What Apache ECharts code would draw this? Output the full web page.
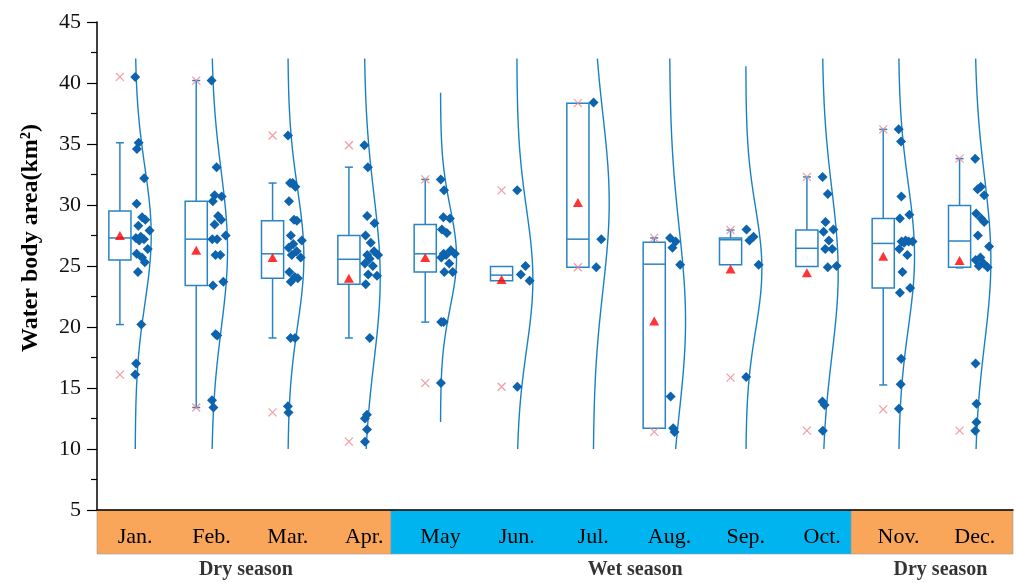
<!DOCTYPE html>
<html>
<head>
<meta charset="utf-8">
<script src="https://cdn.jsdelivr.net/npm/echarts/dist/echarts.min.js"></script>
<style>
html, body { margin: 0; padding: 0; background: #fff; }
#chart { width: 1016px; height: 583px; }
</style>
</head>
<body>
<div id="chart"></div>
<script>
var months = ["Jan.", "Feb.", "Mar.", "Apr.", "May", "Jun.", "Jul.", "Aug.", "Sep.", "Oct.", "Nov.", "Dec."];

// yearly water body area per month (km2)
var jan = [40.5, 35.1, 34.6, 32.2, 30.1, 29.0, 28.8, 28.3, 27.9, 27.4, 27.3, 27.2, 27.1, 26.4, 26.0, 25.7, 25.3, 24.5, 20.2, 17.0, 16.1];
var feb = [40.2, 33.1, 30.8, 30.7, 30.3, 29.1, 28.8, 28.4, 27.5, 27.2, 27.2, 25.9, 25.9, 23.7, 23.4, 19.4, 19.3, 14.0, 13.4];
var mar = [35.7, 31.8, 31.8, 31.5, 30.3, 28.8, 28.7, 27.5, 27.1, 26.8, 26.5, 26.2, 25.9, 25.7, 24.5, 24.1, 24.0, 23.7, 19.1, 19.1, 13.5, 13.0];
var apr = [34.9, 33.1, 29.1, 28.5, 27.5, 26.9, 26.2, 25.9, 25.9, 25.6, 25.2, 25.0, 24.3, 24.2, 23.5, 19.1, 12.8, 12.5, 11.6, 10.6];
var may = [32.1, 31.2, 29.0, 28.9, 28.0, 27.7, 26.3, 26.0, 26.0, 25.9, 25.7, 25.2, 24.5, 24.5, 20.4, 20.4, 15.4];
var jun = [31.2, 25.0, 24.3, 23.8, 15.1];
var jul = [38.4, 27.2, 24.9];
var aug = [27.3, 27.0, 26.5, 25.1, 14.3, 11.7, 11.4];
var sep = [28.0, 27.4, 27.1, 25.1, 15.9];
var oct = [32.3, 30.9, 28.6, 28.0, 27.8, 27.1, 26.4, 26.4, 25.0, 24.9, 13.9, 13.6, 11.5];
var nov = [36.2, 35.2, 30.7, 29.2, 28.9, 27.1, 27.0, 27.0, 27.0, 26.9, 26.4, 25.9, 24.5, 23.2, 22.8, 17.4, 15.3, 13.3];
var dec = [33.8, 31.5, 31.3, 30.8, 29.3, 28.9, 28.6, 27.5, 26.6, 25.7, 25.5, 25.2, 25.0, 24.9, 17.0, 13.7, 12.2, 11.5];
var monthPoints = [jan, feb, mar, apr, may, jun, jul, aug, sep, oct, nov, dec];

// box statistics
var boxLow  = [20.2, 13.4, 19.1, 19.1, 20.4, 23.8, 24.9, 11.7, 25.1, 24.95, 15.25, 24.85];
var boxQ1   = [25.5, 23.4, 24.0, 23.5, 24.5, 23.8, 24.9, 11.7, 25.1, 24.95, 23.2, 24.9];
var boxMed  = [27.3, 27.2, 26.0, 25.55, 26.0, 24.25, 27.2, 25.15, 27.15, 26.45, 26.85, 27.05];
var boxQ3   = [29.5, 30.3, 28.7, 27.5, 28.4, 24.95, 38.35, 26.95, 27.3, 27.95, 28.9, 29.95];
var boxHigh = [35.1, 40.2, 31.8, 33.1, 32.1, 24.95, 38.35, 27.3, 27.95, 32.3, 36.2, 33.8];
var means   = [27.5, 26.3, 25.7, 24.0, 25.7, 23.9, 30.2, 20.5, 24.75, 24.45, 25.8, 25.45];
var crossMax = [40.5, 40.2, 35.7, 34.9, 32.1, 31.2, 38.35, 27.3, 27.95, 32.3, 36.2, 33.8];
var crossMin = [16.1, 13.4, 13.0, 10.6, 15.4, 15.1, 24.9, 11.4, 15.85, 11.5, 13.25, 11.5];

// season bands along the month axis
var seasonNames = ["Dry season", "Wet season", "Dry season"];
var seasonFrom = [0.47, 4.35, 10.38];
var seasonTo = [4.35, 10.38, 12.5];
var seasonLabelAt = [2.45, 7.55, 11.55];

var serif = "'Liberation Serif', 'Times New Roman', serif";
var BOX_SHIFT = -0.2, BOX_W = 0.29, AMP = 0.21;
var jitter = [0.05, 0.55, 0.25, 0.8, 0.1, 0.45, 0.65, 0.2, 0.9, 0.35];

function sdOf(arr, m) {
  if (arr.length < 2) return 1;
  var s = 0;
  arr.forEach(function (v) { s += (v - m) * (v - m); });
  return Math.sqrt(s / (arr.length - 1));
}
var sds = monthPoints.map(function (arr, i) { return sdOf(arr, means[i]); });
function dens(i, v) { var z = (v - means[i]) / sds[i]; return Math.exp(-0.5 * z * z); }

var scatterData = [];
monthPoints.forEach(function (arr, i) {
  arr.forEach(function (v, j) {
    scatterData.push([i + 1 + jitter[j % jitter.length] * AMP * dens(i, v), v]);
  });
});

var curveSeries = monthPoints.map(function (arr, i) {
  var lo = Math.max(10, means[i] - 3.3 * sds[i]);
  var hi = Math.min(42, means[i] + 3.3 * sds[i]);
  var pts = [];
  for (var y = lo; y < hi; y += 0.2) pts.push([i + 1 + AMP * dens(i, y), y]);
  pts.push([i + 1 + AMP * dens(i, hi), hi]);
  return {
    type: "line", xAxisIndex: 1, yAxisIndex: 0, data: pts, showSymbol: false, silent: true,
    lineStyle: { color: "#1a80c6", width: 1.4 }, z: 1
  };
});

var chart = echarts.init(document.getElementById("chart"));
chart.setOption({
  animation: false,
  grid: [
    { left: 97, right: 3, top: 22, bottom: 73 },
    { left: 97, right: 3, top: 510, height: 44 }
  ],
  xAxis: [
    {
      gridIndex: 0, type: "category", data: months, boundaryGap: true, z: 10,
      axisLine: { lineStyle: { color: "#000", width: 1.5 } },
      axisTick: { alignWithLabel: true, length: 10, lineStyle: { color: "#000", width: 1.2 } },
      axisLabel: { margin: 16, fontSize: 22, fontFamily: serif, color: "#000" }
    },
    { gridIndex: 0, type: "value", min: 0.5, max: 12.5, show: false },
    { gridIndex: 1, type: "value", min: 0.5, max: 12.5, show: false }
  ],
  yAxis: [
    {
      gridIndex: 0, type: "value", min: 5, max: 45, interval: 5,
      name: "Water body area(km²)", nameLocation: "middle", nameGap: 54,
      nameTextStyle: { fontFamily: serif, fontWeight: "bold", fontSize: 24, color: "#000", padding: [0, 0, 0, 56] },
      axisLine: { show: true, lineStyle: { color: "#000", width: 1.5 } },
      axisTick: { show: true, length: 10, lineStyle: { color: "#000", width: 1.2 } },
      minorTick: { show: true, splitNumber: 2, length: 6, lineStyle: { color: "#000", width: 1.2 } },
      splitLine: { show: false },
      axisLabel: { margin: 16, fontSize: 22, fontFamily: serif, color: "#111" }
    },
    { gridIndex: 1, type: "value", min: 0, max: 1, show: false }
  ],
  series: curveSeries.concat([
    {
      type: "line", xAxisIndex: 2, yAxisIndex: 1, data: [], z: 0,
      markArea: {
        silent: true,
        data: seasonNames.map(function (n, k) {
          return [
            { xAxis: seasonFrom[k], itemStyle: { color: n === "Wet season" ? "#00b4f0" : "#f9a65a", borderColor: "#999", borderWidth: 0.6 } },
            { xAxis: seasonTo[k] }
          ];
        })
      }
    },
    {
      type: "scatter", xAxisIndex: 2, yAxisIndex: 1, symbolSize: 0, silent: true,
      data: seasonNames.map(function (n, k) { return [seasonLabelAt[k], 0, n]; }),
      label: {
        show: true, position: "bottom", distance: 6,
        formatter: function (p) { return p.value[2]; },
        fontFamily: serif, fontWeight: "bold", fontSize: 20, color: "#000"
      }
    },
    {
      type: "custom", xAxisIndex: 1, yAxisIndex: 0, z: 3,
      data: months.map(function (m, i) { return [i + 1, boxLow[i], boxQ1[i], boxMed[i], boxQ3[i], boxHigh[i]]; }),
      encode: { x: 0, y: [1, 2, 3, 4, 5] },
      renderItem: function (params, api) {
        var x = api.value(0) + BOX_SHIFT;
        var pLo = api.coord([x, api.value(1)]);
        var pQ1 = api.coord([x, api.value(2)]);
        var pMed = api.coord([x, api.value(3)]);
        var pQ3 = api.coord([x, api.value(4)]);
        var pHi = api.coord([x, api.value(5)]);
        var w = api.size([BOX_W, 0])[0];
        var cx = pMed[0];
        var st = { stroke: "#2a84c4", lineWidth: 1.5, fill: null };
        var kids = [
          { type: "rect", shape: { x: cx - w / 2, y: pQ3[1], width: w, height: pQ1[1] - pQ3[1] }, style: st },
          { type: "line", shape: { x1: cx - w / 2, y1: pMed[1], x2: cx + w / 2, y2: pMed[1] }, style: st }
        ];
        if (pQ3[1] - pHi[1] > 0.5) {
          kids.push({ type: "line", shape: { x1: cx, y1: pHi[1], x2: cx, y2: pQ3[1] }, style: st });
          kids.push({ type: "line", shape: { x1: cx - 4, y1: pHi[1], x2: cx + 4, y2: pHi[1] }, style: st });
        }
        if (pLo[1] - pQ1[1] > 0.5) {
          kids.push({ type: "line", shape: { x1: cx, y1: pQ1[1], x2: cx, y2: pLo[1] }, style: st });
          kids.push({ type: "line", shape: { x1: cx - 4, y1: pLo[1], x2: cx + 4, y2: pLo[1] }, style: st });
        }
        return { type: "group", children: kids };
      }
    },
    {
      type: "scatter", xAxisIndex: 1, yAxisIndex: 0, z: 4, silent: true,
      symbol: "diamond", symbolSize: 10,
      itemStyle: { color: "#0d63ad", opacity: 1 },
      data: scatterData
    },
    {
      type: "scatter", xAxisIndex: 1, yAxisIndex: 0, z: 5, silent: true,
      symbol: "path://M0,0L10,10M10,0L0,10", symbolSize: 8,
      itemStyle: { color: "none", borderColor: "#f0828a", borderWidth: 1.2 },
      data: crossMax.map(function (v, i) { return [i + 1 + BOX_SHIFT, v]; })
        .concat(crossMin.map(function (v, i) { return [i + 1 + BOX_SHIFT, v]; }))
    },
    {
      type: "scatter", xAxisIndex: 1, yAxisIndex: 0, z: 6, silent: true,
      symbol: "triangle", symbolSize: [10, 9],
      itemStyle: { color: "#ff0000" },
      data: means.map(function (v, i) { return [i + 1 + BOX_SHIFT, v]; })
    }
  ])
});
</script>
</body>
</html>
